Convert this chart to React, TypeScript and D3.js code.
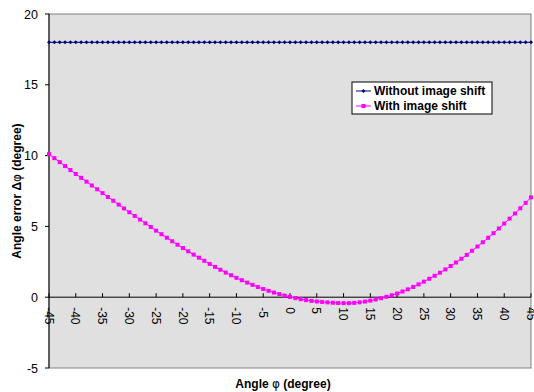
import React from "react";
import * as d3 from "d3";

const angles: number[] = d3.range(-45, 46, 1);
const withoutShift: number[] = angles.map(() => 18);
const withShift: number[] = [
  10.10, 9.82, 9.54, 9.26, 8.98,
  8.70, 8.43, 8.16, 7.89, 7.62,
  7.35, 7.08, 6.81, 6.54, 6.27,
  6.00, 5.74, 5.48, 5.22, 4.96,
  4.70, 4.45, 4.20, 3.95, 3.71,
  3.47, 3.24, 3.01, 2.79, 2.57,
  2.35, 2.14, 1.94, 1.74, 1.55,
  1.37, 1.20, 1.03, 0.87, 0.72,
  0.58, 0.45, 0.33, 0.22, 0.115,
  0.02, -0.065, -0.14, -0.205, -0.26,
  -0.30, -0.335, -0.365, -0.39, -0.41,
  -0.42, -0.42, -0.40, -0.36, -0.31,
  -0.24, -0.16, -0.07, 0.03, 0.14,
  0.26, 0.40, 0.555, 0.725, 0.905,
  1.10, 1.30, 1.51, 1.73, 1.96,
  2.20, 2.45, 2.715, 2.99, 3.28,
  3.58, 3.88, 4.195, 4.52, 4.855,
  5.20, 5.55, 5.91, 6.28, 6.66,
  7.05,
];
const xTicks: number[] = d3.range(-45, 46, 5);
const yTicks: number[] = [-5, 0, 5, 10, 15, 20];
const seriesNames: string[] = ["Without image shift", "With image shift"];

const W = 534;
const H = 392;
const L = 49;
const R = 531;
const T = 14;
const B = 368;

export default function App() {
  const x = d3.scaleLinear().domain([-45, 45]).range([L, R]);
  const y = d3.scaleLinear().domain([-5, 20]).range([B, T]);
  const line = d3
    .line<number>()
    .x((_, i) => x(angles[i]))
    .y((d) => y(d));
  const font = "'Liberation Sans', Arial, sans-serif";
  const blue = "#000080";
  const mag = "#ff00ff";
  const diamond = (cx: number, cy: number, r: number) =>
    `M${cx},${cy - r}L${cx + r},${cy}L${cx},${cy + r}L${cx - r},${cy}Z`;

  return (
    <svg
      width={W}
      height={H}
      style={{ position: "absolute", left: 0, top: 0, background: "#fff" }}
      fontFamily={font}
    >
      <rect x={L} y={T} width={R - L} height={B - T} fill="#e0e0e0" stroke="#808080" strokeWidth={1} />
      {/* y axis */}
      <line x1={L} y1={T} x2={L} y2={B} stroke="#000" strokeWidth={1} />
      {yTicks.map((t) => (
        <g key={t}>
          <line x1={L - 4} x2={L} y1={y(t)} y2={y(t)} stroke="#000" />
          <text x={38} y={y(t)} dy="0.36em" textAnchor="end" fontSize={12.5} fill="#000">
            {t}
          </text>
        </g>
      ))}
      {/* x axis at 0 */}
      <line x1={L} x2={R} y1={y(0)} y2={y(0)} stroke="#000" strokeWidth={1} />
      {xTicks.map((t) => (
        <g key={t}>
          <line x1={x(t)} x2={x(t)} y1={y(0) - 4} y2={y(0)} stroke="#000" />
          <text
            transform={`translate(${x(t)},${y(0) + 10}) rotate(90)`}
            dy="0.36em"
            textAnchor="start"
            fontSize={12}
            fill="#000"
          >
            {t}
          </text>
        </g>
      ))}
      {/* series */}
      <path d={line(withoutShift) || ""} fill="none" stroke={blue} strokeWidth={1} />
      {withoutShift.map((v, i) => (
        <path key={i} d={diamond(x(angles[i]), y(v), 2)} fill={blue} />
      ))}
      <path d={line(withShift) || ""} fill="none" stroke={mag} strokeWidth={1} />
      {withShift.map((v, i) => (
        <rect key={i} x={x(angles[i]) - 2} y={y(v) - 2} width={4} height={4} fill={mag} />
      ))}
      {/* legend */}
      <rect x={352} y={82} width={140} height={32} fill="#fff" stroke="#000" strokeWidth={1} />
      <line x1={356} x2={371} y1={91} y2={91} stroke={blue} />
      <path d={diamond(363.5, 91, 2)} fill={blue} />
      <text x={374} y={91} dy="0.36em" fontSize={12} fontWeight="bold">{seriesNames[0]}</text>
      <line x1={356} x2={371} y1={106} y2={106} stroke={mag} />
      <rect x={361.5} y={104} width={4} height={4} fill={mag} />
      <text x={374} y={106} dy="0.36em" fontSize={12} fontWeight="bold">{seriesNames[1]}</text>
      {/* titles */}
      <text x={283} y={388} textAnchor="middle" fontSize={12} fontWeight="bold">
        Angle <tspan fontFamily="'DejaVu Sans', sans-serif" fontWeight="normal">φ</tspan> (degree)
      </text>
      <text
        transform={`translate(21,${(T + B) / 2}) rotate(-90)`}
        textAnchor="middle"
        fontSize={12}
        fontWeight="bold"
      >
        Angle error Δ<tspan fontFamily="'DejaVu Sans', sans-serif" fontWeight="normal">φ</tspan> (degree)
      </text>
    </svg>
  );
}
